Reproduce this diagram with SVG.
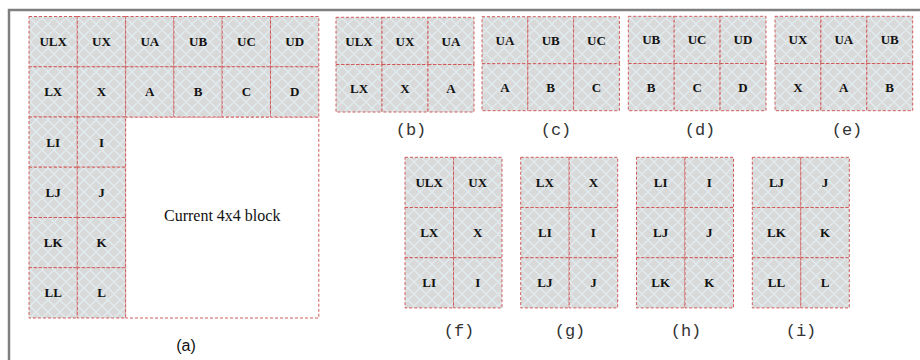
<svg xmlns="http://www.w3.org/2000/svg" width="920" height="360" viewBox="0 0 920 360">
<defs>
<pattern id="hatch" patternUnits="userSpaceOnUse" width="12" height="12">
<rect width="12" height="12" fill="#d9d9d9"/>
<path d="M-3,3 L3,-3 M0,12 L12,0 M9,15 L15,9 M-3,9 L3,15 M0,0 L12,12 M9,-3 L15,3" stroke="#e0ecef" stroke-width="1.3" fill="none"/>
</pattern>
<style>
.c{fill:url(#hatch);stroke:#d05a5a;stroke-width:1;stroke-dasharray:3 2}
.w{fill:#ffffff;stroke:#d05a5a;stroke-width:1;stroke-dasharray:3 2}
.t{font-family:"Liberation Serif",serif;font-weight:bold;font-size:13px;fill:#111;text-anchor:middle}
.cap{font-family:"Liberation Mono",monospace;font-size:17px;fill:#333;text-anchor:middle}
.capa{font-family:"Liberation Sans",Arial,sans-serif;font-size:16px;fill:#111;text-anchor:middle}
.cur{font-family:"Liberation Serif",serif;font-size:16px;fill:#111;text-anchor:middle}
.frame{stroke:#7f7f7f;stroke-width:2.5;fill:none}
</style>
</defs>
<rect width="920" height="360" fill="#ffffff"/>
<path class="frame" d="M9,360 L9,10 L920,10"/>

<g id="panel-a">
<rect class="w" x="125.6" y="117" width="193.2" height="201"/>
<rect class="c" x="29" y="16.5" width="48.3" height="50.3"/>
<rect class="c" x="77.3" y="16.5" width="48.3" height="50.3"/>
<rect class="c" x="125.6" y="16.5" width="48.3" height="50.3"/>
<rect class="c" x="173.9" y="16.5" width="48.3" height="50.3"/>
<rect class="c" x="222.2" y="16.5" width="48.3" height="50.3"/>
<rect class="c" x="270.5" y="16.5" width="48.3" height="50.3"/>
<rect class="c" x="29" y="66.8" width="48.3" height="50.2"/>
<rect class="c" x="77.3" y="66.8" width="48.3" height="50.2"/>
<rect class="c" x="125.6" y="66.8" width="48.3" height="50.2"/>
<rect class="c" x="173.9" y="66.8" width="48.3" height="50.2"/>
<rect class="c" x="222.2" y="66.8" width="48.3" height="50.2"/>
<rect class="c" x="270.5" y="66.8" width="48.3" height="50.2"/>
<rect class="c" x="29" y="117" width="48.3" height="50.2"/>
<rect class="c" x="77.3" y="117" width="48.3" height="50.2"/>
<rect class="c" x="29" y="167.2" width="48.3" height="50.3"/>
<rect class="c" x="77.3" y="167.2" width="48.3" height="50.3"/>
<rect class="c" x="29" y="217.5" width="48.3" height="50.2"/>
<rect class="c" x="77.3" y="217.5" width="48.3" height="50.2"/>
<rect class="c" x="29" y="267.7" width="48.3" height="50.3"/>
<rect class="c" x="77.3" y="267.7" width="48.3" height="50.3"/>
<text class="t" x="53.2" y="46.1">ULX</text>
<text class="t" x="101.5" y="46.1">UX</text>
<text class="t" x="149.8" y="46.1">UA</text>
<text class="t" x="198.1" y="46.1">UB</text>
<text class="t" x="246.4" y="46.1">UC</text>
<text class="t" x="294.7" y="46.1">UD</text>
<text class="t" x="53.2" y="96.4">LX</text>
<text class="t" x="101.5" y="96.4">X</text>
<text class="t" x="149.8" y="96.4">A</text>
<text class="t" x="198.1" y="96.4">B</text>
<text class="t" x="246.4" y="96.4">C</text>
<text class="t" x="294.7" y="96.4">D</text>
<text class="t" x="53.2" y="146.6">LI</text>
<text class="t" x="101.5" y="146.6">I</text>
<text class="t" x="53.2" y="196.9">LJ</text>
<text class="t" x="101.5" y="196.9">J</text>
<text class="t" x="53.2" y="247.1">LK</text>
<text class="t" x="101.5" y="247.1">K</text>
<text class="t" x="53.2" y="297.4">LL</text>
<text class="t" x="101.5" y="297.4">L</text>
<text class="cur" x="222.2" y="221">Current 4x4 block</text>
<text class="capa" x="186" y="351">(a)</text>
</g>

<g id="panel-b">
<rect class="c" x="336" y="17.3" width="46" height="47.2"/>
<rect class="c" x="382" y="17.3" width="46" height="47.2"/>
<rect class="c" x="428" y="17.3" width="46" height="47.2"/>
<rect class="c" x="336" y="64.5" width="46" height="47.5"/>
<rect class="c" x="382" y="64.5" width="46" height="47.5"/>
<rect class="c" x="428" y="64.5" width="46" height="47.5"/>
<text class="t" x="359" y="45.5">ULX</text>
<text class="t" x="405" y="45.5">UX</text>
<text class="t" x="451" y="45.5">UA</text>
<text class="t" x="359" y="92.8">LX</text>
<text class="t" x="405" y="92.8">X</text>
<text class="t" x="451" y="92.8">A</text>
<text class="cap" x="411" y="135">(b)</text>
</g>

<g id="panel-c">
<rect class="c" x="482" y="16.7" width="45.8" height="47"/>
<rect class="c" x="527.8" y="16.7" width="45.8" height="47"/>
<rect class="c" x="573.6" y="16.7" width="45.8" height="47"/>
<rect class="c" x="482" y="63.7" width="45.8" height="47"/>
<rect class="c" x="527.8" y="63.7" width="45.8" height="47"/>
<rect class="c" x="573.6" y="63.7" width="45.8" height="47"/>
<text class="t" x="504.9" y="44.7">UA</text>
<text class="t" x="550.7" y="44.7">UB</text>
<text class="t" x="596.5" y="44.7">UC</text>
<text class="t" x="504.9" y="91.7">A</text>
<text class="t" x="550.7" y="91.7">B</text>
<text class="t" x="596.5" y="91.7">C</text>
<text class="cap" x="556" y="135">(c)</text>
</g>

<g id="panel-d">
<rect class="c" x="628.3" y="16.3" width="45.9" height="47.2"/>
<rect class="c" x="674.2" y="16.3" width="45.9" height="47.2"/>
<rect class="c" x="720.1" y="16.3" width="45.9" height="47.2"/>
<rect class="c" x="628.3" y="63.5" width="45.9" height="47.2"/>
<rect class="c" x="674.2" y="63.5" width="45.9" height="47.2"/>
<rect class="c" x="720.1" y="63.5" width="45.9" height="47.2"/>
<text class="t" x="651.2" y="44.4">UB</text>
<text class="t" x="697.1" y="44.4">UC</text>
<text class="t" x="743" y="44.4">UD</text>
<text class="t" x="651.2" y="91.6">B</text>
<text class="t" x="697.1" y="91.6">C</text>
<text class="t" x="743" y="91.6">D</text>
<text class="cap" x="700" y="135">(d)</text>
</g>

<g id="panel-e">
<rect class="c" x="775" y="16.3" width="45.9" height="47.2"/>
<rect class="c" x="820.9" y="16.3" width="45.9" height="47.2"/>
<rect class="c" x="866.8" y="16.3" width="45.9" height="47.2"/>
<rect class="c" x="775" y="63.5" width="45.9" height="47.2"/>
<rect class="c" x="820.9" y="63.5" width="45.9" height="47.2"/>
<rect class="c" x="866.8" y="63.5" width="45.9" height="47.2"/>
<text class="t" x="797.9" y="44.4">UX</text>
<text class="t" x="843.8" y="44.4">UA</text>
<text class="t" x="889.7" y="44.4">UB</text>
<text class="t" x="797.9" y="91.6">X</text>
<text class="t" x="843.8" y="91.6">A</text>
<text class="t" x="889.7" y="91.6">B</text>
<text class="cap" x="847" y="135">(e)</text>
</g>

<g id="panel-f">
<rect class="c" x="405" y="157.3" width="48.5" height="50.2"/>
<rect class="c" x="453.5" y="157.3" width="48.5" height="50.2"/>
<rect class="c" x="405" y="207.5" width="48.5" height="50.2"/>
<rect class="c" x="453.5" y="207.5" width="48.5" height="50.2"/>
<rect class="c" x="405" y="257.7" width="48.5" height="50.2"/>
<rect class="c" x="453.5" y="257.7" width="48.5" height="50.2"/>
<text class="t" x="429.2" y="186.9">ULX</text>
<text class="t" x="477.7" y="186.9">UX</text>
<text class="t" x="429.2" y="237.1">LX</text>
<text class="t" x="477.7" y="237.1">X</text>
<text class="t" x="429.2" y="287.3">LI</text>
<text class="t" x="477.7" y="287.3">I</text>
<text class="cap" x="459" y="336">(f)</text>
</g>

<g id="panel-g">
<rect class="c" x="520.7" y="157.3" width="48.5" height="50.2"/>
<rect class="c" x="569.2" y="157.3" width="48.5" height="50.2"/>
<rect class="c" x="520.7" y="207.5" width="48.5" height="50.2"/>
<rect class="c" x="569.2" y="207.5" width="48.5" height="50.2"/>
<rect class="c" x="520.7" y="257.7" width="48.5" height="50.2"/>
<rect class="c" x="569.2" y="257.7" width="48.5" height="50.2"/>
<text class="t" x="544.9" y="186.9">LX</text>
<text class="t" x="593.4" y="186.9">X</text>
<text class="t" x="544.9" y="237.1">LI</text>
<text class="t" x="593.4" y="237.1">I</text>
<text class="t" x="544.9" y="287.3">LJ</text>
<text class="t" x="593.4" y="287.3">J</text>
<text class="cap" x="570" y="336">(g)</text>
</g>

<g id="panel-h">
<rect class="c" x="636.5" y="157.3" width="48.5" height="50.2"/>
<rect class="c" x="685" y="157.3" width="48.5" height="50.2"/>
<rect class="c" x="636.5" y="207.5" width="48.5" height="50.2"/>
<rect class="c" x="685" y="207.5" width="48.5" height="50.2"/>
<rect class="c" x="636.5" y="257.7" width="48.5" height="50.2"/>
<rect class="c" x="685" y="257.7" width="48.5" height="50.2"/>
<text class="t" x="660.7" y="186.9">LI</text>
<text class="t" x="709.2" y="186.9">I</text>
<text class="t" x="660.7" y="237.1">LJ</text>
<text class="t" x="709.2" y="237.1">J</text>
<text class="t" x="660.7" y="287.3">LK</text>
<text class="t" x="709.2" y="287.3">K</text>
<text class="cap" x="686" y="336">(h)</text>
</g>

<g id="panel-i">
<rect class="c" x="752.3" y="157.3" width="48.5" height="50.2"/>
<rect class="c" x="800.8" y="157.3" width="48.5" height="50.2"/>
<rect class="c" x="752.3" y="207.5" width="48.5" height="50.2"/>
<rect class="c" x="800.8" y="207.5" width="48.5" height="50.2"/>
<rect class="c" x="752.3" y="257.7" width="48.5" height="50.2"/>
<rect class="c" x="800.8" y="257.7" width="48.5" height="50.2"/>
<text class="t" x="776.5" y="186.9">LJ</text>
<text class="t" x="825" y="186.9">J</text>
<text class="t" x="776.5" y="237.1">LK</text>
<text class="t" x="825" y="237.1">K</text>
<text class="t" x="776.5" y="287.3">LL</text>
<text class="t" x="825" y="287.3">L</text>
<text class="cap" x="801" y="336">(i)</text>
</g>

<g id="connectors"></g>
</svg>
